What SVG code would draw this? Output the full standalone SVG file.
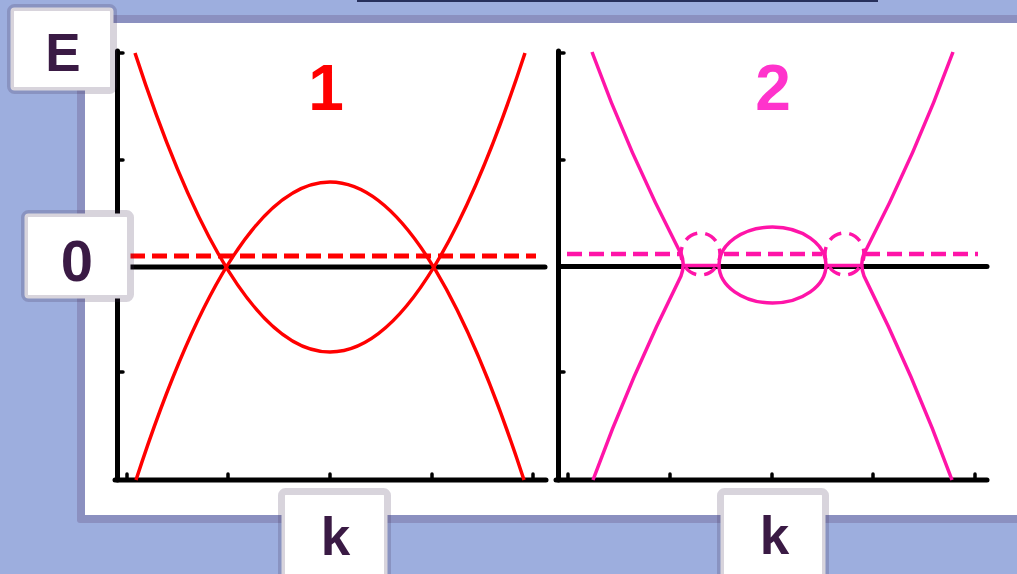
<svg xmlns="http://www.w3.org/2000/svg" width="1017" height="574" viewBox="0 0 1017 574">
  <defs>
    <style>
      .axis { stroke: #000; stroke-width: 5; stroke-linecap: round; fill: none; }
      .tick { stroke: #000; stroke-width: 3.5; stroke-linecap: round; }
      .red { stroke: #FF0000; stroke-width: 3.5; fill: none; }
      .pink { stroke: #FF14A8; stroke-width: 3.5; fill: none; }
      .reddash { stroke: #FF0000; stroke-width: 5; stroke-dasharray: 15 7; fill: none; }
      .pinkdash { stroke: #FF14A8; stroke-width: 4.5; stroke-dasharray: 15 7; fill: none; }
      .pinkring { stroke: #FF14A8; stroke-width: 3.5; stroke-dasharray: 13 8.22; stroke-dashoffset: 6.4; fill: none; }
      .box { fill: #FFFFFF; stroke: rgba(60,40,80,0.2); stroke-width: 7; }
      .lbl { font-family: "Liberation Sans", Arial, sans-serif; font-weight: bold; fill: #3A1A44; text-anchor: middle; }
      .num { font-family: "Liberation Sans", Arial, sans-serif; font-weight: bold; font-size: 64px; text-anchor: middle; }
    </style>
  </defs>

  <!-- background -->
  <rect x="0" y="0" width="1017" height="574" fill="#9DAEDE"/>
  <rect x="357" y="-6" width="521" height="8" fill="#27305C"/>
  <rect x="77" y="15" width="960" height="508" rx="3" fill="#8B90C0"/>
  <rect x="85" y="23" width="950" height="492" fill="#FFFFFF"/>

  <!-- plot 1 -->
  <g id="plot1">
    <line class="axis" x1="117.5" y1="51" x2="117.5" y2="480"/>
    <line class="axis" x1="115" y1="480" x2="546" y2="480"/>
    <line class="tick" x1="117.5" y1="53" x2="123" y2="53"/>
    <line class="tick" x1="117.5" y1="160" x2="123" y2="160"/>
    <line class="tick" x1="117.5" y1="372" x2="123" y2="372"/>
    <line class="tick" x1="127" y1="480" x2="127" y2="474"/>
    <line class="tick" x1="228" y1="480" x2="228" y2="474"/>
    <line class="tick" x1="330" y1="480" x2="330" y2="474"/>
    <line class="tick" x1="432" y1="480" x2="432" y2="474"/>
    <line class="tick" x1="533" y1="480" x2="533" y2="474"/>
    <line class="axis" x1="128" y1="267" x2="545" y2="267"/>
    <line class="reddash" x1="130" y1="256" x2="536" y2="256"/>
    <path class="red" d="M135,53 Q330,651 525,53"/>
    <path class="red" d="M136,480 Q330,-116 524,480"/>
    <text class="num" x="326" y="110" fill="#FF0000">1</text>
  </g>

  <!-- plot 2 -->
  <g id="plot2">
    <line class="axis" x1="558.5" y1="51" x2="558.5" y2="480"/>
    <line class="axis" x1="556" y1="480" x2="987" y2="480"/>
    <line class="tick" x1="558.5" y1="53" x2="564" y2="53"/>
    <line class="tick" x1="558.5" y1="160" x2="564" y2="160"/>
    <line class="tick" x1="558.5" y1="372" x2="564" y2="372"/>
    <line class="tick" x1="568" y1="480" x2="568" y2="474"/>
    <line class="tick" x1="670" y1="480" x2="670" y2="474"/>
    <line class="tick" x1="772" y1="480" x2="772" y2="474"/>
    <line class="tick" x1="873" y1="480" x2="873" y2="474"/>
    <line class="tick" x1="975" y1="480" x2="975" y2="474"/>
    <line class="axis" x1="560" y1="266.5" x2="987" y2="266.5"/>
    <line class="pinkdash" x1="567" y1="254" x2="681" y2="254"/>
    <line class="pinkdash" x1="724" y1="254" x2="822" y2="254"/>
    <line class="pinkdash" x1="865" y1="254" x2="978" y2="254"/>
    <ellipse class="pinkring" cx="700.5" cy="254" rx="19.5" ry="21"/>
    <ellipse class="pinkring" cx="844.5" cy="254" rx="19.5" ry="21"/>
    <path class="pink" d="M592,52 Q629,153.5 680,252 C684,258 684,268 681,276 Q631,376 593,480"/>
    <path class="pink" d="M953,52 Q916,153.5 865,252 C861,258 861,268 864,276 Q914,376 952,480"/>
    <line class="pink" x1="682" y1="265.5" x2="720" y2="265.5"/>
    <line class="pink" x1="825" y1="265.5" x2="863" y2="265.5"/>
    <ellipse class="pink" cx="772.5" cy="265" rx="53.5" ry="38"/>
    <text class="num" x="773" y="110" fill="#FF33CC">2</text>
  </g>

  <!-- axis label boxes -->
  <g id="label-E">
    <rect class="box" x="10.5" y="7.5" width="103" height="83" rx="4"/>
    <text class="lbl" x="63" y="71" font-size="53">E</text>
  </g>
  <g id="label-0">
    <rect class="box" x="24.5" y="213.5" width="106" height="85" rx="4"/>
    <text class="lbl" x="77" y="281" font-size="58">0</text>
  </g>
  <g id="label-k1">
    <rect class="box" x="281.5" y="491.5" width="106" height="95" rx="4"/>
    <text class="lbl" x="335.5" y="555" font-size="53">k</text>
  </g>
  <g id="label-k2">
    <rect class="box" x="720.5" y="491.5" width="105" height="95" rx="4"/>
    <text class="lbl" x="774.5" y="554" font-size="53">k</text>
  </g>
  <g id="connectors"></g>
</svg>
